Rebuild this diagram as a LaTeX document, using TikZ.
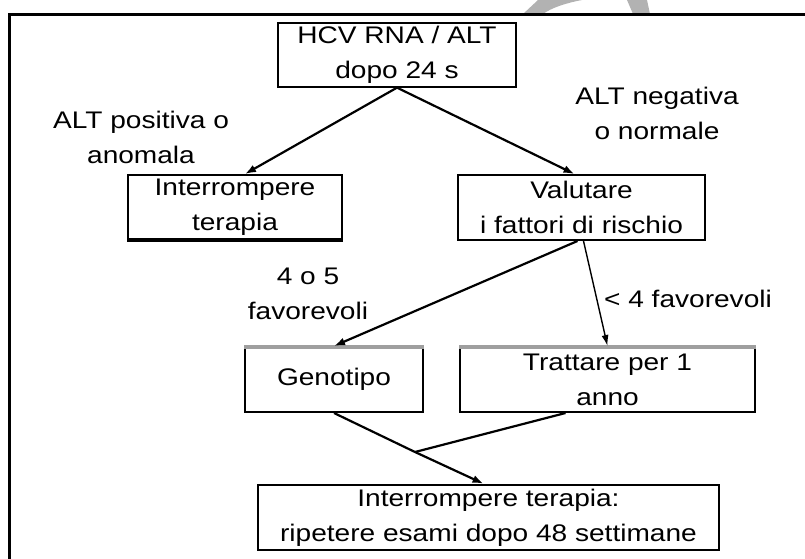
\documentclass[tikz,border=0pt]{standalone}
\usepackage{fontspec}
\setmainfont[FakeStretch=1.17]{Liberation Sans}
\usetikzlibrary{arrows.meta}
\begin{document}
\begin{tikzpicture}[x=1pt,y=-1pt,
  every node/.style={font=\fontsize{24}{35}\selectfont, align=center, inner sep=0pt},
  box/.style={draw=black, line width=2pt, minimum height=64pt},
  lbl/.style={},
  arr/.style={-{Latex[length=11pt,width=8pt]}, line width=2.2pt},
  thinarr/.style={-{Latex[length=11pt,width=7pt]}, line width=1.4pt},
  plain/.style={line width=2.2pt}]
\useasboundingbox (0,0) rectangle (805,558);
% watermark remnants
\fill[gray!60] (523,14) -- (538,0) -- (582,0) .. controls (566,3) and (551,8) .. (543,14) -- cycle;
\fill[gray!60] (627,0) -- (647,0) -- (650,14) -- (633,14) -- cycle;
% outer frame
\draw[line width=3pt] (9.5,560) -- (9.5,14) -- (806,14);
% boxes
\node[box, line width=1.3pt, minimum width=238pt] (top) at (397,55) {HCV RNA / ALT\\dopo 24 s};
\node[box, minimum width=214pt] (interr) at (235,207) {Interrompere\\terapia};
\node[box, minimum width=247pt, minimum height=65pt] (val) at (581.5,207.5) {Valutare\\i fattori di rischio};
\node[box, minimum width=178pt, minimum height=65pt] (geno) at (334,379.5) {Genotipo};
\node[box, minimum width=295pt, minimum height=65pt] (tratt) at (607.5,379.5) {Trattare per 1\\anno};
\node[box, line width=2.6pt, minimum width=461pt, minimum height=65pt] (bot) at (488.5,517.5) {Interrompere terapia:\\ripetere esami dopo 48 settimane};
% extra heavy edges
\draw[line width=3pt] (interr.south west) -- (interr.south east);
\draw[gray!75, line width=3.5pt] ([yshift=-1pt]geno.north west) -- ([yshift=-1pt]geno.north east);
\draw[gray!75, line width=3.5pt] ([yshift=-1pt]tratt.north west) -- ([yshift=-1pt]tratt.north east);
% labels
\node[lbl] (l1) at (141,137) {ALT positiva o\\anomala};
\node[lbl] (l2) at (657,113) {ALT negativa\\o normale};
\node[lbl] (l3) at (308,294) {4 o 5\\favorevoli};
\node[lbl] (l4) at (688,299) {< 4 favorevoli};
% connectors
\coordinate (j) at (415,452);
\draw[arr] (top.south) -- ([xshift=10pt]interr.north);
\draw[arr] (top.south) -- ([xshift=-7pt]val.north);
\draw[arr] ([xshift=-4pt]val.south) -- (geno.north);
\draw[thinarr] ([xshift=2pt]val.south) -- (tratt.north);
\draw[plain] ([xshift=-42pt]tratt.south) -- (j);
\draw[arr] (geno.south) -- (j) -- ([xshift=-5pt]bot.north);
\end{tikzpicture}
\end{document}
